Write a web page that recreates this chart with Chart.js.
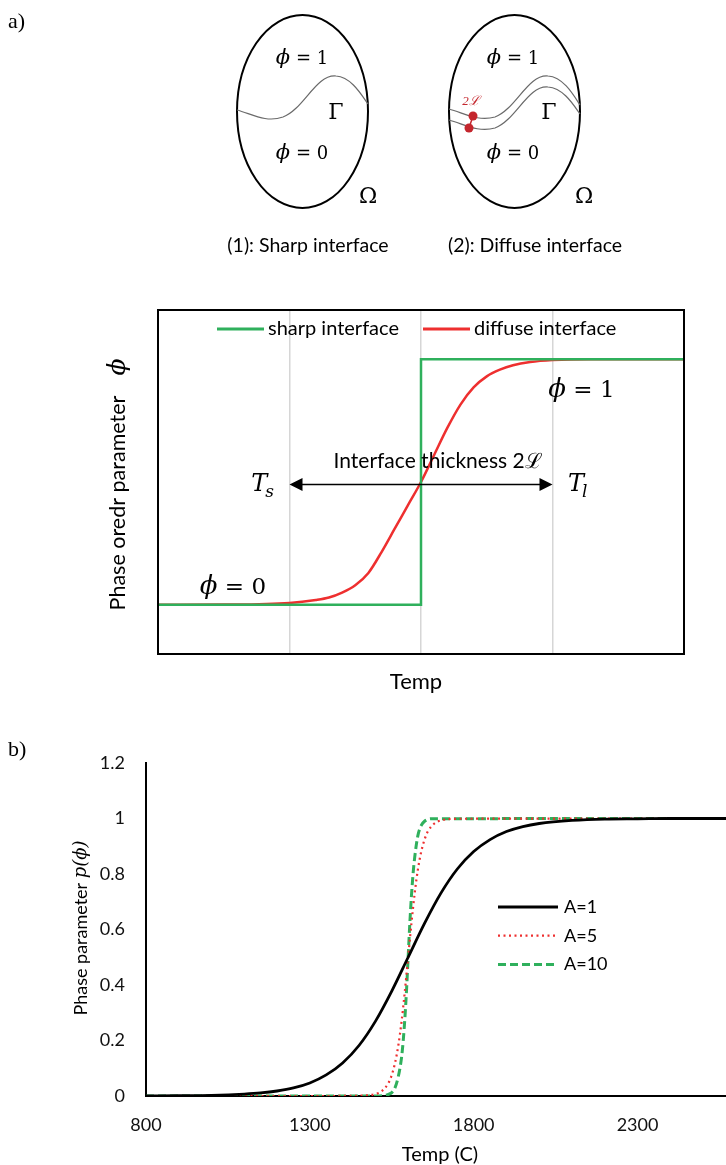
<!DOCTYPE html>
<html>
<head>
<meta charset="utf-8">
<script src="https://cdn.jsdelivr.net/npm/chart.js@4.4.1/dist/chart.umd.min.js"></script>
<style>
  html, body { margin: 0; padding: 0; background: #fff; overflow: hidden; }
  #page { position: relative; width: 726px; height: 1165px; }
  canvas { position: absolute; left: 0; }
  #sketch { top: 0; }
  #phase { top: 290px; }
  #curves { top: 730px; }
</style>
</head>
<body>
<div id="page">
  <canvas id="sketch" width="726" height="270"></canvas>
  <canvas id="phase" width="726" height="420"></canvas>
  <canvas id="curves" width="726" height="435"></canvas>
</div>
<script>
// ---- a) schematic: sharp vs diffuse phase field (arbitrary temperature units)
const sharpT = [0, 2, 2, 4];
const sharpPhi = [0, 0, 1, 1];
const diffuseT = [0, 0.5, 1.0, 1.2, 1.3, 1.4, 1.5, 1.6, 1.7, 1.8, 1.9, 2.0, 2.1, 2.2, 2.3, 2.4, 2.5, 2.6, 2.7, 2.83, 3.0, 3.3, 4.0];
const diffusePhi = [0, 0.001, 0.008, 0.02, 0.03, 0.05, 0.08, 0.13, 0.215, 0.31, 0.405, 0.5, 0.61, 0.72, 0.815, 0.885, 0.93, 0.957, 0.975, 0.988, 0.996, 1, 1];
const schemTicks = [0, 1, 2, 3, 4];
const solidusT = 1;
const liquidusT = 3;

// ---- b) phase parameter vs temperature for three A values
const tempTicks = [800, 1300, 1800, 2300];
const phiTicks = [0, 0.2, 0.4, 0.6, 0.8, 1, 1.2];
const tempA1 = [800, 900, 1000, 1100, 1150, 1200, 1250, 1300, 1350, 1400, 1450, 1500, 1550, 1600, 1650, 1700, 1750, 1800, 1850, 1900, 1950, 2000, 2100, 2200, 2300, 2400, 2570];
const phiA1 = [0.0003, 0.0009, 0.0025, 0.007, 0.011, 0.018, 0.029, 0.047, 0.076, 0.119, 0.182, 0.269, 0.378, 0.5, 0.622, 0.731, 0.818, 0.881, 0.924, 0.953, 0.971, 0.982, 0.993, 0.998, 0.999, 1, 1];
const tempA5 = [800, 1400, 1480, 1500, 1520, 1540, 1550, 1560, 1570, 1580, 1590, 1600, 1610, 1620, 1630, 1640, 1650, 1660, 1680, 1700, 1750, 2570];
const phiA5 = [0, 0.0001, 0.003, 0.007, 0.018, 0.047, 0.076, 0.119, 0.182, 0.269, 0.378, 0.5, 0.622, 0.731, 0.818, 0.881, 0.924, 0.953, 0.982, 0.993, 0.999, 1];
const tempA10 = [800, 1500, 1530, 1540, 1550, 1560, 1570, 1580, 1585, 1590, 1595, 1600, 1605, 1610, 1615, 1620, 1630, 1640, 1650, 1670, 2570];
const phiA10 = [0, 0, 0.002, 0.006, 0.012, 0.03, 0.07, 0.14, 0.2, 0.28, 0.38, 0.5, 0.62, 0.72, 0.8, 0.86, 0.94, 0.975, 0.99, 0.999, 1];

const SANS = "Lato, 'Open Sans', sans-serif";
const SERIF = "'DejaVu Serif', 'Liberation Serif', serif";
const GREEN = '#2fb05c';
const RED = '#ee2f2f';

const pts = (xs, ys) => xs.map((x, i) => ({ x: x, y: ys[i] }));

// "ϕ = n" with an italic, slightly larger phi, centred on (x, y)
function drawPhiEq(ctx, rest, x, y, size) {
  const fPhi = 'italic ' + Math.round(size * 1.15) + 'px ' + SERIF;
  const fRest = size + 'px ' + SERIF;
  ctx.font = fPhi;
  const w1 = ctx.measureText('ϕ').width;
  ctx.font = fRest;
  const w2 = ctx.measureText(rest).width;
  const x0 = x - (w1 + w2) / 2;
  ctx.textAlign = 'left';
  ctx.textBaseline = 'alphabetic';
  const base = y + size * 0.36;
  ctx.font = fPhi;
  ctx.fillText('ϕ', x0, base);
  ctx.font = fRest;
  ctx.fillText(rest, x0 + w1, base);
}

// italic T with a subscript, centred on (x, y)
function drawSubT(ctx, sub, x, y) {
  ctx.font = 'italic 24px ' + SERIF;
  ctx.textAlign = 'left';
  ctx.textBaseline = 'middle';
  const w = ctx.measureText('T').width;
  ctx.fillText('T', x - w, y);
  ctx.font = 'italic 17px ' + SERIF;
  ctx.fillText(sub, x - 2, y + 8);
}

// ---------- top sketch ----------
const sketchPlugin = {
  id: 'sketch',
  afterDraw(chart) {
    const ctx = chart.ctx;
    ctx.save();
    ctx.fillStyle = '#000';
    ctx.textBaseline = 'middle';
    ctx.font = "22px 'Liberation Serif', serif";
    ctx.fillText('a)', 8, 22);

    // domains
    ctx.strokeStyle = '#000';
    ctx.lineWidth = 2;
    [302.5, 514.5].forEach(cx => {
      ctx.beginPath();
      ctx.ellipse(cx, 111.5, 65.5, 96.5, 0, 0, Math.PI * 2);
      ctx.stroke();
    });

    // interfaces
    ctx.strokeStyle = '#6a6a6a';
    ctx.lineWidth = 1.2;
    ctx.beginPath();
    ctx.moveTo(237, 110);
    ctx.bezierCurveTo(252, 114, 266, 123, 283, 117);
    ctx.bezierCurveTo(304, 109, 316, 74, 336, 76);
    ctx.bezierCurveTo(351, 77, 361, 94, 368, 104);
    ctx.stroke();

    ctx.beginPath();
    ctx.moveTo(449, 109);
    ctx.bezierCurveTo(464, 113, 478, 122, 495, 117);
    ctx.bezierCurveTo(516, 109, 528, 74, 548, 76);
    ctx.bezierCurveTo(563, 77, 573, 94, 580, 105);
    ctx.stroke();
    ctx.beginPath();
    ctx.moveTo(449, 120);
    ctx.bezierCurveTo(464, 124, 478, 133, 495, 128);
    ctx.bezierCurveTo(516, 120, 528, 85, 548, 87);
    ctx.bezierCurveTo(563, 88, 573, 104, 580, 114);
    ctx.stroke();

    // thickness markers
    ctx.strokeStyle = '#c4262d';
    ctx.fillStyle = '#c4262d';
    ctx.lineWidth = 1.5;
    ctx.beginPath();
    ctx.moveTo(473, 116);
    ctx.lineTo(469, 128);
    ctx.stroke();
    [[473, 116], [469, 128]].forEach(p => {
      ctx.beginPath();
      ctx.arc(p[0], p[1], 4.5, 0, Math.PI * 2);
      ctx.fill();
    });
    ctx.font = "italic 13px 'Liberation Serif', serif";
    ctx.textAlign = 'center';
    ctx.fillText('2ℒ', 471, 102);

    // labels
    ctx.fillStyle = '#000';
    drawPhiEq(ctx, ' = 1', 302, 58, 18);
    drawPhiEq(ctx, ' = 0', 302, 153, 18);
    drawPhiEq(ctx, ' = 1', 513, 58, 18);
    drawPhiEq(ctx, ' = 0', 513, 153, 18);
    ctx.textAlign = 'center';
    ctx.textBaseline = 'middle';
    ctx.font = '22px ' + SERIF;
    ctx.fillText('Γ', 336, 113);
    ctx.fillText('Γ', 549, 113);
    ctx.fillText('Ω', 368, 197);
    ctx.fillText('Ω', 584, 197);

    ctx.font = '19.5px ' + SANS;
    ctx.fillText('(1): Sharp interface', 308, 246);
    ctx.fillText('(2): Diffuse interface', 535, 246);
    ctx.restore();
  }
};

new Chart(document.getElementById('sketch'), {
  type: 'scatter',
  data: { datasets: [] },
  options: {
    responsive: false,
    animation: false,
    events: [],
    plugins: { legend: { display: false }, tooltip: { enabled: false } },
    scales: { x: { display: false }, y: { display: false } }
  },
  plugins: [sketchPlugin]
});

// ---------- a) phase order parameter chart ----------
const phasePlugin = {
  id: 'phaseDecor',
  afterDraw(chart) {
    const ctx = chart.ctx;
    const a = chart.chartArea;
    const xs = chart.scales.x, ys = chart.scales.y;
    ctx.save();

    // interface thickness arrow between Ts and Tl
    const ay = ys.getPixelForValue(0.49);
    const x1 = xs.getPixelForValue(solidusT), x2 = xs.getPixelForValue(liquidusT);
    ctx.strokeStyle = '#000';
    ctx.fillStyle = '#000';
    ctx.lineWidth = 1.5;
    ctx.beginPath();
    ctx.moveTo(x1 + 10, ay);
    ctx.lineTo(x2 - 10, ay);
    ctx.stroke();
    ctx.beginPath();
    ctx.moveTo(x1, ay); ctx.lineTo(x1 + 13, ay - 6.5); ctx.lineTo(x1 + 13, ay + 6.5); ctx.closePath();
    ctx.fill();
    ctx.beginPath();
    ctx.moveTo(x2, ay); ctx.lineTo(x2 - 13, ay - 6.5); ctx.lineTo(x2 - 13, ay + 6.5); ctx.closePath();
    ctx.fill();

    ctx.textAlign = 'center';
    ctx.textBaseline = 'middle';
    ctx.font = '21px ' + SANS;
    ctx.fillText('Interface thickness 2ℒ', xs.getPixelForValue(2.13), ys.getPixelForValue(0.585));

    drawSubT(ctx, 's', xs.getPixelForValue(0.83), ys.getPixelForValue(0.49));
    drawSubT(ctx, 'l', xs.getPixelForValue(3.24), ys.getPixelForValue(0.49));

    drawPhiEq(ctx, ' = 1', xs.getPixelForValue(3.22), ys.getPixelForValue(0.88), 23);
    drawPhiEq(ctx, ' = 0', xs.getPixelForValue(0.57), ys.getPixelForValue(0.078), 23);

    // legend inside the frame
    ctx.font = '20px ' + SANS;
    ctx.textAlign = 'left';
    ctx.textBaseline = 'middle';
    const ly = a.top + 19;
    const lxs = [217, 423];
    chart.data.datasets.forEach((ds, i) => {
      ctx.strokeStyle = ds.borderColor;
      ctx.lineWidth = 3;
      ctx.beginPath();
      ctx.moveTo(lxs[i], ly);
      ctx.lineTo(lxs[i] + 47, ly);
      ctx.stroke();
      ctx.fillStyle = '#000';
      ctx.fillText(ds.label, lxs[i] + 51, ly);
    });

    // frame
    ctx.strokeStyle = '#000';
    ctx.lineWidth = 2;
    ctx.strokeRect(a.left, a.top, a.right - a.left, a.bottom - a.top);

    // axis titles
    ctx.fillStyle = '#000';
    ctx.textAlign = 'center';
    ctx.font = '22px ' + SANS;
    ctx.fillText('Temp', 416, a.bottom + 28);
    ctx.save();
    ctx.translate(118, 0);
    ctx.rotate(-Math.PI / 2);
    ctx.font = '21.5px ' + SANS;
    ctx.fillText('Phase oredr parameter', -213, 0);
    ctx.font = 'italic 25px ' + SERIF;
    ctx.fillText('ϕ', -77, 0);
    ctx.restore();

    ctx.restore();
  }
};

new Chart(document.getElementById('phase'), {
  type: 'line',
  data: {
    datasets: [
      {
        label: 'sharp interface',
        data: pts(sharpT, sharpPhi),
        borderColor: GREEN,
        borderWidth: 2.5,
        pointRadius: 0,
        tension: 0
      },
      {
        label: 'diffuse interface',
        data: pts(diffuseT, diffusePhi),
        borderColor: RED,
        borderWidth: 2.5,
        pointRadius: 0,
        cubicInterpolationMode: 'monotone'
      }
    ]
  },
  options: {
    responsive: false,
    animation: false,
    events: [],
    layout: { padding: { left: 158, right: 42, top: 20, bottom: 56 } },
    plugins: { legend: { display: false }, tooltip: { enabled: false } },
    scales: {
      x: {
        type: 'linear',
        min: 0, max: 4,
        afterBuildTicks: axis => { axis.ticks = schemTicks.map(v => ({ value: v })); },
        ticks: { display: false },
        grid: { color: '#d6d6d6', lineWidth: 1.5, drawTicks: false },
        border: { display: false }
      },
      y: {
        min: -0.2, max: 1.2,
        ticks: { display: false },
        grid: { display: false, drawTicks: false },
        border: { display: false }
      }
    }
  },
  plugins: [phasePlugin]
});

// ---------- b) curves for A = 1, 5, 10 ----------
const curvesPlugin = {
  id: 'curvesDecor',
  afterDraw(chart) {
    const ctx = chart.ctx;
    ctx.save();
    ctx.fillStyle = '#000';
    ctx.textBaseline = 'middle';
    ctx.font = "22px 'Liberation Serif', serif";
    ctx.fillText('b)', 8, 20);

    // legend
    ctx.font = '18px ' + SANS;
    ctx.textAlign = 'left';
    chart.data.datasets.forEach((ds, i) => {
      const y = 177 + i * 28.7;
      ctx.strokeStyle = ds.borderColor;
      ctx.lineWidth = ds.borderWidth;
      ctx.setLineDash(ds.borderDash || []);
      ctx.beginPath();
      ctx.moveTo(498, y);
      ctx.lineTo(558, y);
      ctx.stroke();
      ctx.setLineDash([]);
      ctx.fillStyle = '#000';
      ctx.fillText(ds.label, 564, y);
    });

    // axis titles
    ctx.textAlign = 'center';
    ctx.font = '20px ' + SANS;
    ctx.fillText('Temp (C)', 440, 425);

    ctx.save();
    ctx.translate(81, 198);
    ctx.rotate(-Math.PI / 2);
    const t1 = 'Phase parameter ';
    const t2 = 'p(ϕ)';
    ctx.font = '18px ' + SANS;
    const w1 = ctx.measureText(t1).width;
    ctx.font = 'italic 18px ' + SERIF;
    const w2 = ctx.measureText(t2).width;
    ctx.textAlign = 'left';
    ctx.font = '18px ' + SANS;
    ctx.fillText(t1, -(w1 + w2) / 2, 0);
    ctx.font = 'italic 18px ' + SERIF;
    ctx.fillText(t2, -(w1 + w2) / 2 + w1, 0);
    ctx.restore();

    ctx.restore();
  }
};

new Chart(document.getElementById('curves'), {
  type: 'line',
  data: {
    datasets: [
      {
        label: 'A=1',
        data: pts(tempA1, phiA1),
        borderColor: '#000',
        borderWidth: 2.8,
        pointRadius: 0,
        cubicInterpolationMode: 'monotone'
      },
      {
        label: 'A=5',
        data: pts(tempA5, phiA5),
        borderColor: RED,
        borderWidth: 2.2,
        borderDash: [2, 3.5],
        pointRadius: 0,
        cubicInterpolationMode: 'monotone'
      },
      {
        label: 'A=10',
        data: pts(tempA10, phiA10),
        borderColor: GREEN,
        borderWidth: 3,
        borderDash: [8, 4],
        pointRadius: 0,
        cubicInterpolationMode: 'monotone'
      }
    ]
  },
  options: {
    responsive: false,
    animation: false,
    events: [],
    layout: { padding: { left: 0, right: 0, top: 33, bottom: 0 } },
    plugins: { legend: { display: false }, tooltip: { enabled: false } },
    scales: {
      x: {
        type: 'linear',
        min: 800, max: 2570,
        afterBuildTicks: axis => { axis.ticks = tempTicks.map(v => ({ value: v })); },
        afterFit: s => { s.height = 69; },
        ticks: {
          color: '#111',
          font: { family: SANS, size: 18 },
          padding: 18,
          maxRotation: 0,
          callback: v => String(v)
        },
        grid: { display: false, drawTicks: false },
        border: { color: '#000', width: 2 }
      },
      y: {
        min: 0, max: 1.2,
        afterBuildTicks: axis => { axis.ticks = phiTicks.map(v => ({ value: v })); },
        afterFit: s => { s.width = 146; },
        ticks: {
          color: '#111',
          font: { family: SANS, size: 18 },
          padding: 21,
          callback: v => String(Math.round(v * 10) / 10)
        },
        grid: { display: false, drawTicks: false },
        border: { color: '#000', width: 2 }
      }
    }
  },
  plugins: [curvesPlugin]
});
</script>
</body>
</html>
